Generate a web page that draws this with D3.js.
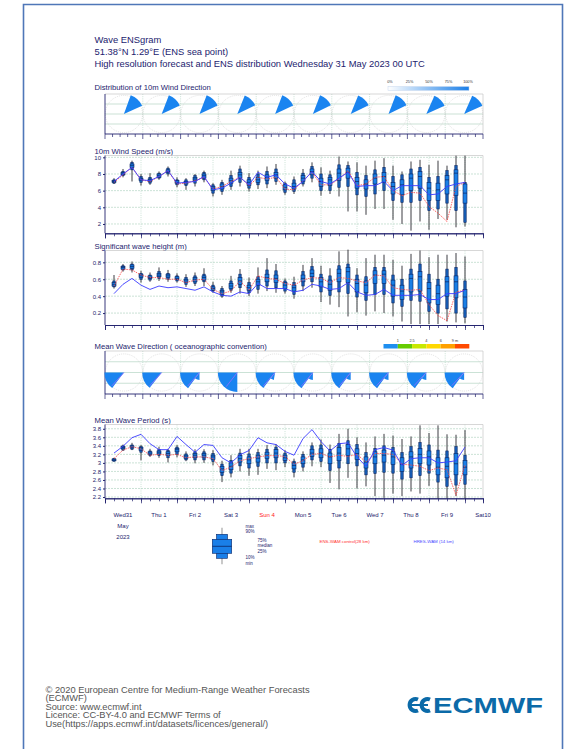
<!DOCTYPE html>
<html>
<head>
<meta charset="utf-8">
<script src="https://cdn.jsdelivr.net/npm/d3@7/dist/d3.min.js"></script>
<style>
  body { margin: 0; background: #fff; }
  text { font-family: "Liberation Sans", Arial, sans-serif; }
</style>
</head>
<body>
<svg id="chart" width="567" height="749"></svg>
<script>
// forecast steps (hours from Wed 31 May 00 UTC)
var steps = [6,12,18,24,30,36,42,48,54,60,66,72,78,84,90,96,102,108,114,120,126,132,138,144,150,156,162,168,174,180,186,192,198,204,210,216,222,228,234,240];
var dayLabels = ["Wed31","Thu 1","Fri 2","Sat 3","Sun 4","Mon 5","Tue 6","Wed 7","Thu 8","Fri 9","Sat10"];

// 10m wind speed (m/s)
var wsMin = [6.8,7.6,7.1,6.6,6.7,7.3,7.7,6.4,6.1,6.5,7.0,5.3,5.5,6.1,6.5,5.9,6.2,6.3,6.7,5.5,5.6,6.5,7.0,5.4,5.6,5.3,3.5,3.5,3.1,3.8,3.8,2.5,2.0,1.2,2.3,1.3,2.6,2.5,1.6,1.7];
var wsP10 = [6.9,7.8,8.5,7.0,6.9,7.5,8.0,6.7,6.6,6.9,7.3,5.7,5.9,6.5,7.0,6.3,6.7,6.8,7.1,5.8,5.9,6.8,7.5,6.0,6.0,6.4,6.5,5.5,5.3,5.6,6.0,4.8,4.6,4.6,4.8,3.6,3.8,4.5,3.6,2.2];
var wsQ25 = [7.0,7.9,8.8,7.2,7.1,7.6,8.2,6.9,6.8,7.2,7.5,6.0,6.2,6.9,7.5,6.6,7.0,7.2,7.5,6.1,6.2,7.1,7.9,6.5,6.6,7.2,7.5,6.3,6.2,6.8,7.0,5.6,5.5,6.0,6.3,4.8,4.8,5.6,5.4,4.5];
var wsMed = [7.1,8.0,9.0,7.4,7.3,7.8,8.3,7.0,7.0,7.4,7.8,6.3,6.5,7.2,7.9,7.0,7.3,7.6,7.9,6.4,6.5,7.5,8.3,7.1,7.3,8.1,8.2,7.1,6.8,7.5,7.7,6.5,6.7,7.5,7.7,6.3,6.1,7.3,8.1,5.7];
var wsQ75 = [7.2,8.2,9.2,7.5,7.4,8.0,8.5,7.2,7.1,7.6,8.0,6.5,6.8,7.5,8.2,7.3,7.6,7.9,8.2,6.7,6.9,7.8,8.6,7.5,7.6,8.6,8.7,7.6,7.3,8.0,8.2,7.0,7.3,8.0,8.3,7.0,6.9,7.8,8.5,6.8];
var wsP90 = [7.3,8.3,9.4,7.7,7.6,8.1,8.7,7.3,7.3,7.8,8.2,6.7,7.0,7.8,8.6,7.6,8.0,8.3,8.6,6.9,7.3,8.1,8.9,8.0,7.9,9.1,9.0,8.2,7.8,8.5,8.8,7.7,7.9,8.6,8.8,7.6,7.7,8.4,9.0,7.0];
var wsMax = [7.5,8.6,9.6,8.0,8.1,8.3,8.9,7.6,7.5,8.0,8.4,6.9,7.3,8.4,9.0,8.1,8.4,8.9,9.2,7.1,7.7,8.6,9.4,8.8,8.4,10.1,9.5,9.4,9.0,9.6,9.9,9.0,8.3,9.5,9.7,9.1,9.6,9.0,10.2,10.2];
var wsHres = [7.1,8.0,8.8,7.3,7.2,7.7,8.4,6.9,7.0,7.1,7.7,6.1,6.3,6.9,7.6,6.7,8.2,7.6,7.9,6.8,6.3,7.1,8.3,7.1,6.8,7.5,8.2,6.5,6.6,6.6,7.1,6.0,6.6,6.6,6.6,5.5,5.6,6.5,6.8,7.0];
var wsCtrl = [7.0,7.9,8.8,7.3,7.1,7.7,8.4,6.8,6.9,7.2,7.6,6.2,6.5,7.1,7.6,6.6,7.6,7.4,7.6,6.2,6.1,7.2,8.2,6.7,6.7,7.4,8.4,6.6,6.8,7.6,7.7,6.0,5.4,5.8,5.7,4.1,3.3,2.3,6.5,7.0];
var wsTicks = [2,4,6,8,10];

// significant wave height (m)
var swhMin = [0.49,0.69,0.68,0.56,0.57,0.58,0.57,0.56,0.51,0.52,0.52,0.44,0.38,0.44,0.43,0.40,0.43,0.46,0.44,0.43,0.37,0.46,0.50,0.33,0.30,0.27,0.16,0.21,0.17,0.22,0.20,0.16,0.10,0.07,0.07,0.07,0.07,0.10,0.09,0.08];
var swhP10 = [0.51,0.71,0.71,0.60,0.59,0.61,0.60,0.58,0.54,0.55,0.57,0.46,0.40,0.47,0.50,0.44,0.48,0.52,0.50,0.46,0.42,0.52,0.57,0.45,0.41,0.45,0.43,0.39,0.35,0.42,0.42,0.32,0.28,0.35,0.34,0.22,0.20,0.25,0.20,0.15];
var swhQ25 = [0.52,0.72,0.73,0.62,0.61,0.63,0.62,0.60,0.56,0.57,0.59,0.47,0.42,0.49,0.54,0.47,0.53,0.57,0.56,0.49,0.46,0.57,0.63,0.51,0.47,0.57,0.56,0.45,0.44,0.55,0.55,0.40,0.36,0.45,0.46,0.32,0.30,0.40,0.38,0.26];
var swhMed = [0.54,0.74,0.75,0.64,0.62,0.65,0.64,0.61,0.58,0.60,0.62,0.49,0.45,0.52,0.58,0.50,0.57,0.62,0.61,0.53,0.50,0.61,0.67,0.57,0.54,0.67,0.69,0.55,0.53,0.65,0.66,0.53,0.46,0.61,0.63,0.49,0.43,0.57,0.57,0.39];
var swhQ75 = [0.56,0.75,0.77,0.66,0.64,0.67,0.66,0.63,0.60,0.62,0.64,0.51,0.47,0.55,0.62,0.53,0.60,0.66,0.65,0.56,0.53,0.65,0.71,0.62,0.59,0.72,0.74,0.60,0.58,0.70,0.70,0.59,0.53,0.66,0.69,0.56,0.53,0.63,0.64,0.48];
var swhP90 = [0.58,0.76,0.78,0.67,0.65,0.69,0.67,0.64,0.62,0.64,0.66,0.53,0.49,0.58,0.66,0.56,0.63,0.71,0.70,0.58,0.56,0.69,0.75,0.66,0.64,0.76,0.78,0.65,0.63,0.74,0.74,0.65,0.60,0.72,0.78,0.66,0.60,0.72,0.74,0.58];
var swhMax = [0.65,0.78,0.81,0.70,0.68,0.74,0.71,0.67,0.66,0.68,0.73,0.57,0.52,0.64,0.72,0.62,0.74,0.85,0.78,0.61,0.63,0.77,0.85,0.76,0.73,0.93,0.95,0.73,0.85,0.89,0.89,0.83,0.76,0.90,0.94,0.86,0.89,0.89,0.91,0.87];
var swhHres = [0.43,0.54,0.61,0.53,0.48,0.52,0.50,0.51,0.49,0.47,0.51,0.45,0.41,0.40,0.45,0.43,0.55,0.49,0.49,0.49,0.45,0.47,0.54,0.52,0.48,0.49,0.56,0.45,0.41,0.42,0.48,0.41,0.41,0.41,0.42,0.36,0.36,0.43,0.43,0.47];
var swhCtrl = [0.52,0.72,0.71,0.65,0.62,0.62,0.60,0.60,0.56,0.59,0.60,0.48,0.43,0.46,0.58,0.47,0.64,0.61,0.60,0.55,0.53,0.59,0.62,0.61,0.56,0.62,0.61,0.58,0.56,0.65,0.64,0.50,0.48,0.47,0.48,0.30,0.17,0.11,0.45,0.47];
var swhTicks = [0.2,0.4,0.6,0.8];

// mean wave period (s)
var mwpMin = [3.03,3.28,3.30,3.06,3.14,3.12,3.01,3.13,3.04,2.99,3.00,2.94,2.55,2.66,2.80,2.70,2.72,2.86,2.83,2.90,2.66,2.80,2.92,2.90,2.53,2.38,2.65,2.40,2.45,2.22,2.18,2.28,2.22,2.33,2.28,2.46,2.17,2.17,2.22,2.17];
var mwpP10 = [3.04,3.30,3.32,3.25,3.17,3.17,3.12,3.20,3.07,3.07,3.07,3.03,2.70,2.76,2.93,2.88,2.92,3.00,3.00,3.00,2.78,2.90,3.07,3.03,2.82,2.88,2.98,2.93,2.72,2.75,2.78,2.76,2.62,2.65,2.70,2.76,2.55,2.45,2.48,2.50];
var mwpQ25 = [3.05,3.33,3.35,3.29,3.20,3.21,3.17,3.26,3.10,3.12,3.12,3.08,2.78,2.84,3.02,2.98,3.02,3.10,3.12,3.06,2.86,2.98,3.15,3.12,2.98,3.05,3.17,3.08,2.88,2.98,3.02,2.96,2.80,2.88,2.98,2.95,2.72,2.65,2.72,2.72];
var mwpMed = [3.07,3.36,3.37,3.33,3.23,3.25,3.22,3.31,3.14,3.18,3.18,3.14,2.86,2.92,3.10,3.07,3.11,3.18,3.23,3.12,2.94,3.07,3.23,3.23,3.14,3.23,3.33,3.22,3.02,3.14,3.18,3.14,2.97,3.14,3.20,3.14,2.90,2.92,2.98,2.90];
var mwpQ75 = [3.09,3.38,3.40,3.36,3.26,3.28,3.26,3.34,3.18,3.22,3.22,3.18,2.92,3.00,3.17,3.14,3.18,3.25,3.31,3.18,3.00,3.14,3.32,3.33,3.23,3.36,3.43,3.33,3.14,3.26,3.30,3.26,3.12,3.26,3.34,3.28,3.12,3.12,3.22,3.06];
var mwpP90 = [3.10,3.40,3.42,3.38,3.28,3.31,3.29,3.37,3.21,3.26,3.26,3.22,2.97,3.06,3.23,3.21,3.24,3.32,3.37,3.23,3.04,3.20,3.40,3.42,3.32,3.46,3.52,3.43,3.24,3.34,3.40,3.36,3.24,3.38,3.48,3.42,3.30,3.28,3.38,3.18];
var mwpMax = [3.12,3.43,3.47,3.42,3.33,3.38,3.33,3.42,3.27,3.32,3.32,3.30,3.05,3.18,3.33,3.33,3.33,3.42,3.44,3.30,3.10,3.27,3.48,3.55,3.43,3.68,3.80,3.60,3.48,3.62,3.68,3.64,3.56,3.62,3.88,3.70,3.88,3.67,3.66,3.77];
var mwpHres = [3.23,3.39,3.59,3.67,3.45,3.31,3.31,3.62,3.43,3.25,3.43,3.41,3.12,3.00,3.19,3.29,3.59,3.47,3.43,3.27,3.18,3.57,3.78,3.50,3.28,3.45,3.47,3.14,2.92,3.31,3.36,3.30,2.94,3.10,3.12,3.12,3.00,3.02,3.05,3.37];
var mwpCtrl = [3.10,3.30,3.38,3.33,3.18,3.20,3.18,3.20,3.12,3.14,3.14,3.10,2.82,2.90,3.05,3.10,3.14,3.17,3.17,3.15,2.97,3.05,3.20,3.22,3.14,3.18,3.15,3.20,3.02,3.22,3.22,3.20,2.97,2.95,2.92,2.82,2.88,2.84,2.24,2.95];
var mwpTicks = [2.2,2.4,2.6,2.8,3,3.2,3.4,3.6,3.8];

// daily direction roses (degrees, clockwise from north)
var wdFrom = [20,21,21,22,21,21,22,21,24,24];
var wdTo   = [66,65,65,64,65,64,64,64,66,66];
var mwdFrom = [217,218,216,180,217,216,216,216,216,216];
var mwdTo   = [270,270,270,270,270,270,270,270,270,270];
var mwdSmallFrom = [0,0,180,0,190,180,180,180,180,180];
var mwdSmallTo   = [0,0,216,0,216,216,216,216,216,216];
var mwdHres = [222,222,221,218,221,220,220,222,223,223];

var wdLegend = ["0%","25%","50%","75%","100%"];
var mwdLegend = ["1","2.5","4","6","9 m"];
var mwdColors = ["#1e8ff0","#66cc00","#c8e800","#ffd800","#ffa000","#ff4a00"];

var navy = "#23236e", grid = "#a8cfbb";
var svg = d3.select("#chart");
svg.append("rect").attr("width", 567).attr("height", 749).attr("fill", "#fff");
svg.append("path").attr("d", "M23.5,760V4.5H562.5V760")
    .attr("fill", "none").attr("stroke", "#4f77b8").attr("stroke-width", 1.6);

var x = d3.scaleLinear().domain([0, 252]).range([105, 483]);
var roseX = d3.scaleBand().domain(d3.range(10)).range([105, 483]);

// header
var head = ["Wave ENSgram", "51.38\u00b0N 1.29\u00b0E (ENS sea point)",
    "High resolution forecast and ENS distribution Wednesday 31 May 2023 00 UTC"];
svg.selectAll(".head").data(head).enter().append("text")
    .attr("x", 94.5).attr("y", function (d, i) { return 42.5 + i * 12.3; })
    .attr("font-size", 9.4).attr("fill", navy).text(function (d) { return d; });

function title(txt, y) {
    svg.append("text").attr("x", 94.5).attr("y", y).attr("font-size", 7.7)
        .attr("fill", navy).text(txt);
}

function frame(g, top, bottom) {
    g.append("path").attr("d", "M105," + top + "H483V" + bottom)
        .attr("fill", "none").attr("stroke", "#c6c6c6").attr("stroke-width", 0.7);
    g.append("line").attr("x1", 105).attr("x2", 105).attr("y1", top).attr("y2", bottom)
        .attr("stroke", navy).attr("stroke-width", 0.9);
}

function timePanel(top, bottom, domain, ticks, mn, p10, q25, med, q75, p90, mx, hres, ctrl) {
    var g = svg.append("g");
    var y = d3.scaleLinear().domain(domain).range([bottom, top]);

    // grid
    g.selectAll(".hg").data(ticks).enter().append("line")
        .attr("x1", 105).attr("x2", 483)
        .attr("y1", function (d) { return y(d); }).attr("y2", function (d) { return y(d); })
        .attr("stroke", grid).attr("stroke-width", 0.6).attr("stroke-dasharray", "2,1");
    g.selectAll(".vg").data(d3.range(24, 252, 24)).enter().append("line")
        .attr("x1", function (d) { return x(d); }).attr("x2", function (d) { return x(d); })
        .attr("y1", top).attr("y2", bottom)
        .attr("stroke", grid).attr("stroke-width", 0.6).attr("stroke-dasharray", "1,1.2");
    frame(g, top, bottom);

    var yAxis = d3.axisLeft(y).tickValues(ticks).tickSize(2).tickPadding(2)
        .tickFormat(function (d) { return d; });
    var gy = g.append("g").attr("transform", "translate(105,0)").call(yAxis);
    gy.select(".domain").remove();
    gy.selectAll("line").attr("stroke", navy);
    gy.selectAll("text").attr("font-size", 6).attr("fill", navy)
        .attr("font-family", "Liberation Sans, Arial, sans-serif");

    timeAxis(g, bottom);

    // ensemble boxes
    var boxes = g.selectAll(".box").data(steps).enter().append("g")
        .attr("transform", function (d) { return "translate(" + x(d) + ",0)"; });
    boxes.append("line")
        .attr("y1", function (d, i) { return y(mn[i]); })
        .attr("y2", function (d, i) { return y(mx[i]); })
        .attr("stroke", "#26262e").attr("stroke-width", 0.9);
    boxes.append("rect").attr("x", -1.2).attr("width", 2.4)
        .attr("y", function (d, i) { return y(p90[i]); })
        .attr("height", function (d, i) { return y(p10[i]) - y(p90[i]); })
        .attr("fill", "#1760b8").attr("stroke", "#0b2460").attr("stroke-width", 0.6);
    boxes.append("rect").attr("x", -2).attr("width", 4)
        .attr("y", function (d, i) { return y(q75[i]); })
        .attr("height", function (d, i) { return y(q25[i]) - y(q75[i]); })
        .attr("fill", "#1a7fe6").attr("stroke", "#0b2460").attr("stroke-width", 0.6);
    boxes.append("line").attr("x1", -2).attr("x2", 2)
        .attr("y1", function (d, i) { return y(med[i]); })
        .attr("y2", function (d, i) { return y(med[i]); })
        .attr("stroke", "#0b2460").attr("stroke-width", 0.7);

    var line = function (vals) {
        return d3.line().x(function (d) { return x(d); })
            .y(function (d, i) { return y(vals[i]); })(steps);
    };
    g.append("path").attr("d", line(ctrl)).attr("fill", "none")
        .attr("stroke", "#ff4040").attr("stroke-width", 0.8).attr("stroke-dasharray", "1.5,1");
    g.append("path").attr("d", line(hres)).attr("fill", "none")
        .attr("stroke", "#3a3aff").attr("stroke-width", 0.9);
}

function timeAxis(g, bottom) {
    var minor = d3.axisBottom(x).tickValues(d3.range(0, 253, 6)).tickSize(3).tickFormat("");
    var major = d3.axisBottom(x).tickValues(d3.range(0, 253, 24)).tickSize(5).tickFormat("");
    [minor, major].forEach(function (ax) {
        var ga = g.append("g").attr("transform", "translate(0," + bottom + ")").call(ax);
        ga.select(".domain").attr("stroke", navy).attr("stroke-width", 0.9);
        ga.selectAll("line").attr("stroke", navy).attr("stroke-width", 0.7);
    });
}

function rosePanel(top, bottom) {
    var g = svg.append("g");
    var h = bottom - top, cy = top + h / 2;
    g.selectAll(".hg").data([0.25, 0.5, 0.75]).enter().append("line")
        .attr("x1", 105).attr("x2", 483)
        .attr("y1", function (d) { return top + h * d; }).attr("y2", function (d) { return top + h * d; })
        .attr("stroke", grid).attr("stroke-width", 0.6);
    g.selectAll(".vg").data(d3.range(1, 10)).enter().append("line")
        .attr("x1", function (d) { return roseX(d); }).attr("x2", function (d) { return roseX(d); })
        .attr("y1", top).attr("y2", bottom)
        .attr("stroke", grid).attr("stroke-width", 0.6).attr("stroke-dasharray", "1,1.2");
    g.selectAll(".circ").data(d3.range(10)).enter().append("circle")
        .attr("cx", function (d) { return roseX(d) + roseX.bandwidth() / 2; }).attr("cy", cy)
        .attr("r", roseX.bandwidth() / 2 - 0.3).attr("fill", "none")
        .attr("stroke", "#cfcfcf").attr("stroke-width", 0.6).attr("stroke-dasharray", "1,1");
    frame(g, top, bottom);
    var minor = d3.range(0, 51).map(function (k) { return 105 + k * roseX.bandwidth() / 5; });
    g.append("line").attr("x1", 105).attr("x2", 483).attr("y1", bottom).attr("y2", bottom)
        .attr("stroke", navy).attr("stroke-width", 0.9);
    g.selectAll(".tk").data(minor).enter().append("line")
        .attr("x1", function (d) { return d; }).attr("x2", function (d) { return d; })
        .attr("y1", bottom).attr("y2", function (d, i) { return bottom + (i % 5 === 0 ? 5 : 3); })
        .attr("stroke", navy).attr("stroke-width", 0.7);
    return { g: g, cy: cy };
}

function sector(r, a0, a1) {
    return d3.arc().innerRadius(0).outerRadius(r)
        .startAngle(a0 * Math.PI / 180).endAngle(a1 * Math.PI / 180)();
}

// ---- wind direction
title("Distribution of 10m Wind Direction", 90);
var wd = rosePanel(94, 134);
wd.g.selectAll(".wd").data(wdFrom).enter().append("path")
    .attr("transform", function (d, i) { return "translate(" + (roseX(i) + roseX.bandwidth() / 2) + "," + wd.cy + ")"; })
    .attr("d", function (d, i) { return sector(20, wdFrom[i], wdTo[i]); })
    .attr("fill", "#1a84f0");

var grad = svg.append("defs").append("linearGradient").attr("id", "wdg");
grad.append("stop").attr("offset", "0%").attr("stop-color", "#ffffff");
grad.append("stop").attr("offset", "100%").attr("stop-color", "#1a7fe8");
svg.append("rect").attr("x", 388).attr("y", 86.5).attr("width", 81).attr("height", 4)
    .attr("fill", "url(#wdg)").attr("stroke", "#c8d8ee").attr("stroke-width", 0.5);
svg.selectAll(".wdl").data(wdLegend).enter().append("text")
    .attr("x", function (d, i) { return 390 + i * 19.5; }).attr("y", 83)
    .attr("text-anchor", "middle").attr("font-size", 3.8).attr("fill", "#333")
    .text(function (d) { return d; });

// ---- wind speed
title("10m Wind Speed (m/s)", 153.5);
timePanel(155.5, 233.3, [0.88, 10.22], wsTicks, wsMin, wsP10, wsQ25, wsMed, wsQ75, wsP90, wsMax, wsHres, wsCtrl);

// ---- significant wave height
title("Significant wave height (m)", 248.5);
timePanel(250.5, 325, [0.059, 0.94], swhTicks, swhMin, swhP10, swhQ25, swhMed, swhQ75, swhP90, swhMax, swhHres, swhCtrl);

// ---- mean wave direction
title("Mean Wave Direction ( oceanographic convention)", 349);
var mwd = rosePanel(351, 394);
var mwdG = mwd.g.selectAll(".mwd").data(mwdFrom).enter().append("g")
    .attr("transform", function (d, i) { return "translate(" + (roseX(i) + roseX.bandwidth() / 2) + "," + mwd.cy + ")"; });
mwdG.append("path").attr("d", function (d, i) { return sector(19.5, mwdFrom[i], mwdTo[i]); })
    .attr("fill", "#1a84f0");
mwdG.append("path").attr("d", function (d, i) { return sector(7.5, mwdSmallFrom[i], mwdSmallTo[i]); })
    .attr("fill", "#1a84f0");
mwdG.append("line").attr("x1", 0).attr("y1", 0)
    .attr("x2", function (d, i) { return 18 * Math.sin(mwdHres[i] * Math.PI / 180); })
    .attr("y2", function (d, i) { return -18 * Math.cos(mwdHres[i] * Math.PI / 180); })
    .attr("stroke", "#8a6cff").attr("stroke-width", 0.9);

var segW = 14.3;
svg.selectAll(".mwdc").data(mwdColors).enter().append("rect")
    .attr("x", function (d, i) { return 383.5 + i * segW; }).attr("y", 344).attr("width", segW)
    .attr("height", 4.5).attr("fill", function (d) { return d; });
svg.selectAll(".mwdl").data(mwdLegend).enter().append("text")
    .attr("x", function (d, i) { return 383.5 + (i + 1) * segW; }).attr("y", 341.5)
    .attr("text-anchor", "middle").attr("font-size", 3.8).attr("fill", "#333")
    .text(function (d) { return d; });

// ---- mean wave period
title("Mean Wave Period (s)", 423);
timePanel(424.5, 498.3, [2.17, 3.9], mwpTicks, mwpMin, mwpP10, mwpQ25, mwpMed, mwpQ75, mwpP90, mwpMax, mwpHres, mwpCtrl);

// day labels
svg.selectAll(".day").data(dayLabels).enter().append("text")
    .attr("x", function (d, i) { return x(i * 24 + 12); }).attr("y", 516.5)
    .attr("text-anchor", "middle").attr("font-size", 6)
    .attr("fill", function (d) { return d.indexOf("Sun") === 0 ? "#ff2020" : navy; })
    .text(function (d) { return d; });
svg.selectAll(".yr").data(["May", "2023"]).enter().append("text")
    .attr("x", x(12)).attr("y", function (d, i) { return 528 + i * 11; })
    .attr("text-anchor", "middle").attr("font-size", 6).attr("fill", navy)
    .text(function (d) { return d; });

// box legend
var lg = svg.append("g").attr("transform", "translate(222,0)");
lg.append("line").attr("y1", 527.7).attr("y2", 564.3).attr("stroke", "#bbb").attr("stroke-width", 1.6);
lg.append("rect").attr("x", -5.5).attr("width", 11).attr("y", 534.3).attr("height", 24)
    .attr("fill", "#1a7fe8").attr("stroke", "#0b2766").attr("stroke-width", 0.6);
lg.append("rect").attr("x", -9.7).attr("width", 19.4).attr("y", 539.3).attr("height", 14)
    .attr("fill", "#1a7fe8").attr("stroke", "#0b2766").attr("stroke-width", 0.6);
lg.append("line").attr("x1", -9.7).attr("x2", 9.7).attr("y1", 546.3).attr("y2", 546.3)
    .attr("stroke", "#0b2766").attr("stroke-width", 0.8);
var lgText = [["max", 245.5, 527.5], ["90%", 245.5, 533], ["75%", 257.5, 541.5], ["median", 257.5, 547],
    ["25%", 257.5, 552.5], ["10%", 245.5, 559], ["min", 245.5, 565]];
svg.selectAll(".lgt").data(lgText).enter().append("text")
    .attr("x", function (d) { return d[1]; }).attr("y", function (d) { return d[2]; })
    .attr("font-size", 4.5).attr("fill", navy).text(function (d) { return d[0]; });
svg.append("text").attr("x", 319.5).attr("y", 542.5).attr("font-size", 4.4)
    .attr("fill", "#ff3030").text("ENS-WAM control(28 km)");
svg.append("text").attr("x", 413.5).attr("y", 542.5).attr("font-size", 4.4)
    .attr("fill", "#4a4aff").text("HRES-WAM (14 km)");

// footer
var foot = ["\u00a9 2020 European Centre for Medium-Range Weather Forecasts", "(ECMWF)",
    "Source: www.ecmwf.int", "Licence: CC-BY-4.0 and ECMWF Terms of",
    "Use(https://apps.ecmwf.int/datasets/licences/general/)"];
svg.selectAll(".foot").data(foot).enter().append("text")
    .attr("x", 45.5).attr("y", function (d, i) { return 692.5 + i * 8.6; })
    .attr("font-size", 9.3).attr("fill", "#555").text(function (d) { return d; });

// logo
var logo = svg.append("g").attr("fill", "none").attr("stroke", "#0b6aa8").attr("stroke-width", 4);
logo.append("path").attr("d", "M418,699.5 A6,6 0 1 0 418,710.5");
logo.append("path").attr("d", "M430,699.5 A6,6 0 1 0 430,710.5");
logo.append("path").attr("d", "M411,705H428").attr("stroke-width", 2);
svg.append("text").attr("x", 433).attr("y", 713).attr("font-size", 21.5).attr("font-weight", "bold")
    .attr("fill", "#0b6aa8").attr("textLength", 110).attr("lengthAdjust", "spacingAndGlyphs")
    .text("ECMWF");
</script>
</body>
</html>
